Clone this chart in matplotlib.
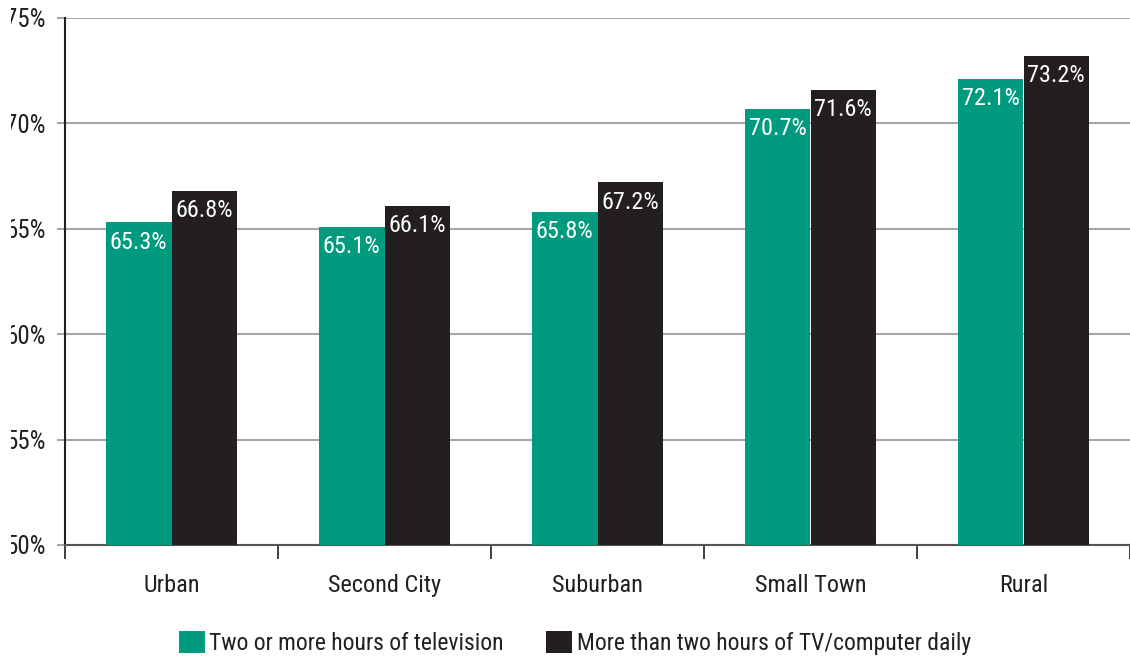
import matplotlib
matplotlib.use("Agg")
import matplotlib.pyplot as plt
from matplotlib.font_manager import fontManager
from matplotlib.patches import Patch, Rectangle

categories = ["Urban", "Second City", "Suburban", "Small Town", "Rural"]
tv_two_plus = [65.3, 65.1, 65.8, 70.7, 72.1]
tv_computer = [66.8, 66.1, 67.2, 71.6, 73.2]
series_names = ["Two or more hours of television",
                "More than two hours of TV/computer daily"]
y_ticks = [50, 55, 60, 65, 70, 75]

GREEN = "#009B7E"
BLACK = "#231F20"

names = {f.name for f in fontManager.ttflist}
fam = [f for f in ["Liberation Sans Narrow", "Roboto Condensed", "Open Sans Condensed"] if f in names]
plt.rcParams["font.family"] = fam + ["DejaVu Sans"]

fig = plt.figure(figsize=(11.3, 6.6), dpi=100)
ax = fig.add_axes([65 / 1130, 1 - 545 / 660, 1 - 65 / 1130, 527 / 660])

x = list(range(len(categories)))
w = 0.307
b1 = ax.bar([i - w / 2 for i in x], [v - 50 for v in tv_two_plus], w, bottom=50,
            color=GREEN, zorder=3)
b2 = ax.bar([i + w / 2 for i in x], [v - 50 for v in tv_computer], w, bottom=50,
            color=BLACK, zorder=3)

for bars, vals in ((b1, tv_two_plus), (b2, tv_computer)):
    for r, v in zip(bars, vals):
        ax.annotate(f"{v:.1f}%", (r.get_x() + r.get_width() / 2, v),
                    xytext=(0, -6), textcoords="offset points",
                    ha="center", va="top", color="white", fontsize=17.5, zorder=4)

ax.set_ylim(50, 75)
ax.set_xlim(-0.5, len(categories) - 0.5)
ax.set_yticks(y_ticks)
ax.set_yticklabels([f"{t}%" for t in y_ticks], fontsize=18, color=BLACK)
ax.yaxis.grid(True, color="#A6A6A6", linewidth=1.5, zorder=0)
ax.tick_params(axis="y", length=6, width=1.5, color="#A6A6A6", pad=8)

ax.set_xticks([i - 0.5 for i in range(len(categories) + 1)])
ax.set_xticklabels([])
ax.tick_params(axis="x", which="major", length=10, width=1.2, color=BLACK, direction="out")
ax.set_xticks(x, minor=True)
ax.set_xticklabels(categories, minor=True, fontsize=17.5, color=BLACK)
ax.tick_params(axis="x", which="minor", length=0, pad=21)

for s in ("top", "right"):
    ax.spines[s].set_visible(False)
ax.spines["left"].set_color(BLACK)
ax.spines["left"].set_linewidth(1.5)
ax.spines["bottom"].set_color("#555555")
ax.spines["bottom"].set_linewidth(1.5)

# trimmed left margin
fig.patches.append(Rectangle((0, 0), 11 / 1130, 1, transform=fig.transFigure,
                             facecolor="white", edgecolor="none", zorder=10))

handles = [Patch(facecolor=GREEN), Patch(facecolor=BLACK)]
fig.legend(handles, series_names, loc="center", bbox_to_anchor=(575 / 1130, 1 - 643 / 660),
           ncol=2, frameon=False, fontsize=17, handlelength=1.1, handleheight=1.1,
           handletextpad=0.2, columnspacing=1.8, labelcolor=BLACK)

fig.savefig("out.png", dpi=100)
